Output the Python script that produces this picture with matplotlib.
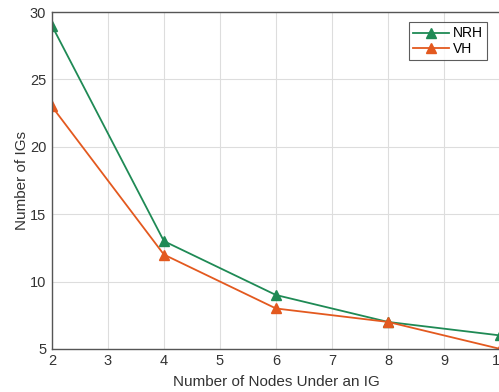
import matplotlib
matplotlib.use("Agg")
import matplotlib.pyplot as plt

# data
nodes = [2, 4, 6, 8, 10]
nrh = [29, 13, 9, 7, 6]
vh = [23, 12, 8, 7, 5]

plt.rcParams['font.family'] = ['Liberation Sans', 'DejaVu Sans']

fig = plt.figure(figsize=(4.99, 3.92), dpi=100)
ax = fig.add_axes([0.104, 0.110, 0.898, 0.859])

ax.plot(nodes, nrh, color='#1f8a55', marker='^', markersize=6.5, linewidth=1.3, label='NRH')
ax.plot(nodes, vh, color='#e3591f', marker='^', markersize=6.5, linewidth=1.3, label='VH')

ax.set_xlim(2, 10)
ax.set_ylim(5, 30)
ax.set_xticks(range(2, 11))
ax.set_yticks([5, 10, 15, 20, 25, 30])
ax.grid(True, color='#dddddd', linewidth=0.8)
ax.set_axisbelow(True)
ax.tick_params(length=0, labelsize=10.5, colors='#333333', pad=4)
for s in ax.spines.values():
    s.set_color('#555555')
    s.set_linewidth(1.0)

ax.set_xlabel('Number of Nodes Under an IG', fontsize=11, color='#333333', labelpad=5)
ax.set_ylabel('Number of IGs', fontsize=11, color='#333333', labelpad=1)

leg = ax.legend(loc='upper right', bbox_to_anchor=(0.972, 0.97), fancybox=False,
                edgecolor='#333333', fontsize=10, handlelength=2.6, borderpad=0.3,
                labelspacing=0.1, handletextpad=0.3, borderaxespad=0)
leg.get_frame().set_linewidth(0.8)

fig.savefig('out.png', dpi=100)
